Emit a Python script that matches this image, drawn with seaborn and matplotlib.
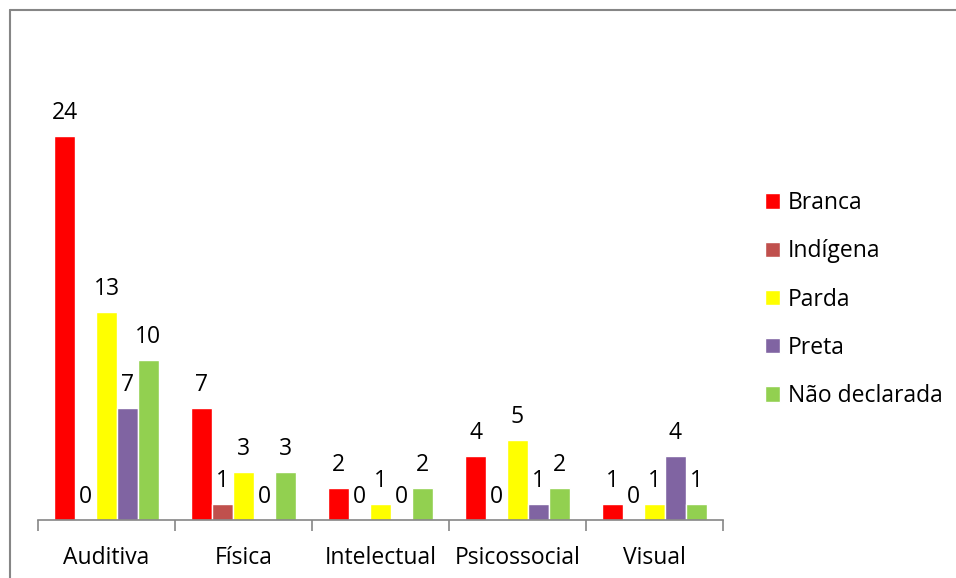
import pandas as pd
import matplotlib
matplotlib.use("Agg")
import matplotlib.pyplot as plt
from matplotlib.lines import Line2D
import seaborn as sns

categorias = ["Auditiva", "Física", "Intelectual", "Psicossocial", "Visual"]
racas = ["Branca", "Indígena", "Parda", "Preta", "Não declarada"]
branca = [24, 7, 2, 4, 1]
indigena = [0, 1, 0, 0, 0]
parda = [13, 3, 1, 5, 1]
preta = [7, 0, 0, 1, 4]
nao_declarada = [10, 3, 2, 2, 1]
cores = ["#FF0000", "#C0504D", "#FFFF00", "#8064A2", "#92D050"]

valores = [branca, indigena, parda, preta, nao_declarada]
rows = []
for raca, serie in zip(racas, valores):
    for cat, v in zip(categorias, serie):
        rows.append({"categoria": cat, "raca": raca, "valor": v})
df = pd.DataFrame(rows)

sns.set_style("white")
plt.rcParams["font.family"] = ["Open Sans", "DejaVu Sans"]
fs = 16.5

fig = plt.figure(figsize=(9.56, 5.78), dpi=100)
ax = fig.add_axes([38 / 956, 1 - 520 / 578, (723 - 38) / 956, 480 / 578])

sns.barplot(data=df, x="categoria", y="valor", hue="raca", order=categorias,
            hue_order=racas, palette=cores, width=0.766, gap=0,
            saturation=1, ax=ax, legend=True)

for cont in ax.containers:
    ax.bar_label(cont, fmt="%d", padding=8, fontsize=fs, color="#000000")

ax.set_ylim(0, 30)
ax.set_xlim(-0.5, 4.5)
ax.set_xlabel("")
ax.set_ylabel("")
ax.set_yticks([])
for s in ["top", "right", "left"]:
    ax.spines[s].set_visible(False)
ax.spines["bottom"].set_color("#868686")
ax.spines["bottom"].set_linewidth(1.2)

ax.set_xticks(range(len(categorias)))
ax.set_xticklabels(categorias, fontsize=fs, color="#000000")
ax.tick_params(axis="x", which="major", bottom=False, length=0, pad=19)
ax.set_xticks([i - 0.5 for i in range(len(categorias) + 1)], minor=True)
ax.tick_params(axis="x", which="minor", bottom=True, length=8, width=1.2,
               color="#868686", direction="out")

leg = ax.legend(loc="upper left", bbox_to_anchor=(765 / 956, 1 - 191 / 578),
                bbox_transform=fig.transFigure, borderaxespad=0, borderpad=0,
                frameon=False, fontsize=fs, handlelength=0.65, handleheight=0.65,
                labelspacing=1.06, handletextpad=0.35)
for t in leg.get_texts():
    t.set_color("#000000")

# moldura do gráfico (parcialmente visível)
fig.add_artist(Line2D([10 / 956, 1], [1 - 10 / 578] * 2, color="#868686", lw=1.5))
fig.add_artist(Line2D([10 / 956] * 2, [0, 1 - 10 / 578], color="#868686", lw=1.5))

fig.savefig("out.png", dpi=100)
